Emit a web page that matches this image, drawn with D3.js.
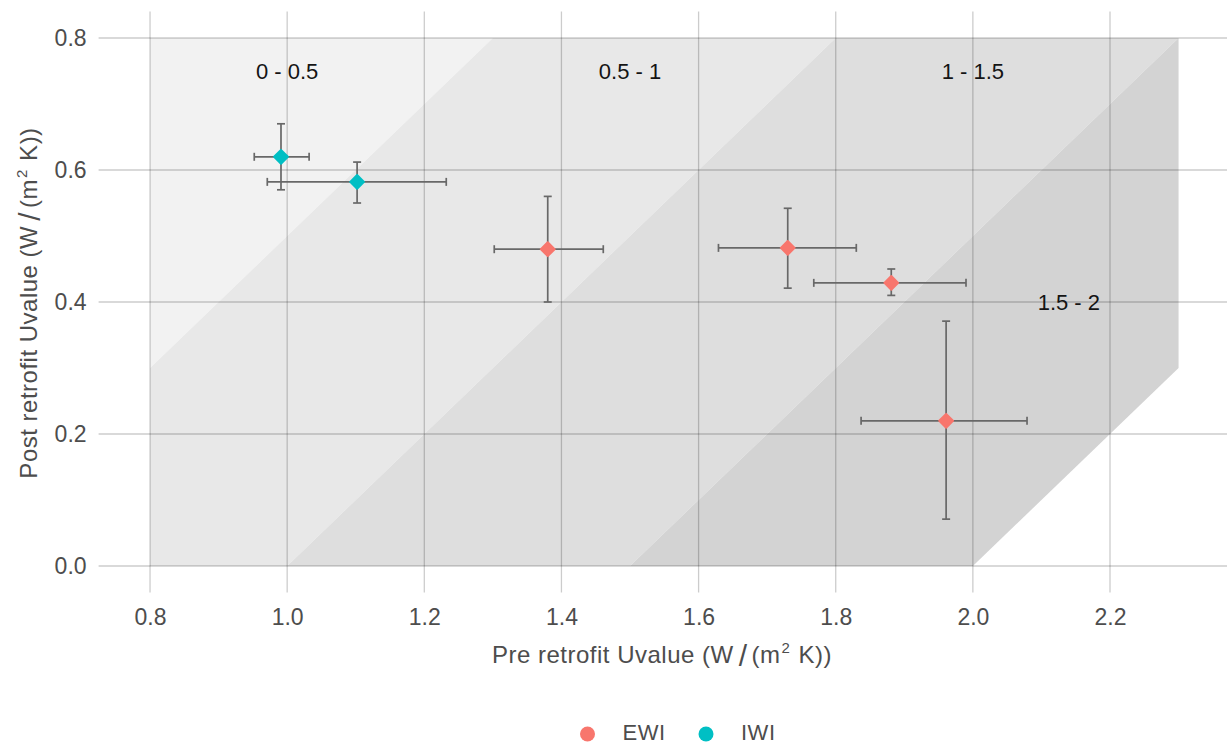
<!DOCTYPE html>
<html><head><meta charset="utf-8">
<script src="https://cdn.jsdelivr.net/npm/d3@7"></script>
<style>body{margin:0;background:#fff;} svg{display:block;font-family:"Liberation Sans",Arial,sans-serif;}</style>
</head><body>
<svg id="c" width="1227" height="745"></svg>
<script>
// ---- data ----
const groups = ["EWI","IWI"];
const groupColors = ["#F8766D","#00BFC4"];
const ptGroup = ["IWI","IWI","EWI","EWI","EWI","EWI"];
const preU    = [0.991,1.102,1.380,1.730,1.881,1.961];
const preLo   = [0.952,0.971,1.302,1.629,1.768,1.837];
const preHi   = [1.032,1.232,1.461,1.830,1.990,2.079];
const postU   = [0.620,0.582,0.480,0.482,0.429,0.220];
const postLo  = [0.570,0.550,0.400,0.421,0.410,0.071];
const postHi  = [0.670,0.612,0.560,0.542,0.450,0.371];
const bandLabels = ["0 - 0.5","0.5 - 1","1 - 1.5","1.5 - 2"];
const bandLabelX = [1.0,1.5,2.0,2.14];
const bandLabelY = [0.75,0.75,0.75,0.40];
const bandLo = [0,0.5,1.0,1.5];   // pre - post lower bound
const bandHi = [0.5,1.0,1.5,2.0];
const bandFill = ["#f2f2f2","#e8e8e8","#dedede","#d3d3d3"];
const xTicks = [0.8,1.0,1.2,1.4,1.6,1.8,2.0,2.2];
const yTicks = [0.0,0.2,0.4,0.6,0.8];
const xRegion = [0.8,2.3], yRegion = [0,0.8];

const FONT = "Liberation Sans, Arial, sans-serif";
const svg = d3.select("#c");
const x = d3.scaleLinear().domain([0.725,2.375]).range([98.6,1230.0]);
const y = d3.scaleLinear().domain([-0.04,0.84]).range([592.4,11.6]);
const color = d3.scaleOrdinal().domain(groups).range(groupColors);

function bandPoly(lo,hi){
  let poly = [[xRegion[0],yRegion[0]],[xRegion[1],yRegion[0]],[xRegion[1],yRegion[1]],[xRegion[0],yRegion[1]]];
  function clip(poly, f){
    const out=[];
    for(let i=0;i<poly.length;i++){
      const a=poly[i], b=poly[(i+1)%poly.length];
      const fa=f(a), fb=f(b);
      if(fa>=0) out.push(a);
      if((fa>=0)!==(fb>=0)){
        const t=fa/(fa-fb);
        out.push([a[0]+t*(b[0]-a[0]), a[1]+t*(b[1]-a[1])]);
      }
    }
    return out;
  }
  poly = clip(poly, p => (p[0]-p[1]) - lo);
  poly = clip(poly, p => hi - (p[0]-p[1]));
  return poly;
}
const g = svg.append("g");
bandLo.forEach((lo,i)=>{
  const p = bandPoly(lo, bandHi[i]);
  g.append("path").attr("d","M"+p.map(d=>[x(d[0]),y(d[1])].join(",")).join("L")+"Z")
   .attr("fill",bandFill[i]).attr("stroke","none");
});

// grid
const gridCol = "rgba(0,0,0,0.2)";
svg.append("g").selectAll("line").data(yTicks).join("line")
  .attr("x1",98.6).attr("x2",1227).attr("y1",d=>y(d)).attr("y2",d=>y(d))
  .attr("stroke",gridCol).attr("stroke-width",1.3);
svg.append("g").selectAll("line").data(xTicks).join("line")
  .attr("y1",11.6).attr("y2",592.4).attr("x1",d=>x(d)).attr("x2",d=>x(d))
  .attr("stroke",gridCol).attr("stroke-width",1.3);

// axes tick labels
const xAxis = svg.append("g").attr("transform","translate(0,592.4)")
  .call(d3.axisBottom(x).tickValues(xTicks).tickFormat(d3.format(".1f")).tickSize(0).tickPadding(16));
const yAxis = svg.append("g").attr("transform","translate(98.6,0)")
  .call(d3.axisLeft(y).tickValues(yTicks).tickFormat(d3.format(".1f")).tickSize(0).tickPadding(12));
[xAxis,yAxis].forEach(a=>{
  a.select(".domain").remove();
  a.attr("font-family",FONT);
  a.selectAll("text").attr("font-size",23).attr("fill","#4d4d4d").attr("font-family",FONT);
});

// band labels
svg.append("g").selectAll("text").data(bandLabels).join("text")
  .attr("x",(d,i)=>x(bandLabelX[i])).attr("y",(d,i)=>y(bandLabelY[i]))
  .attr("dy","0.35em").attr("text-anchor","middle").attr("font-size",22).attr("fill","#141414")
  .attr("font-family",FONT)
  .text(d=>d);

// error bars
const eb = svg.append("g").attr("stroke","#686868").attr("stroke-width",1.7).attr("fill","none");
const cap = 4;
preU.forEach((v,i)=>{
  eb.append("line").attr("x1",x(preLo[i])).attr("x2",x(preHi[i])).attr("y1",y(postU[i])).attr("y2",y(postU[i]));
  eb.append("line").attr("x1",x(preLo[i])).attr("x2",x(preLo[i])).attr("y1",y(postU[i])-cap).attr("y2",y(postU[i])+cap);
  eb.append("line").attr("x1",x(preHi[i])).attr("x2",x(preHi[i])).attr("y1",y(postU[i])-cap).attr("y2",y(postU[i])+cap);
  eb.append("line").attr("x1",x(v)).attr("x2",x(v)).attr("y1",y(postLo[i])).attr("y2",y(postHi[i]));
  eb.append("line").attr("x1",x(v)-cap).attr("x2",x(v)+cap).attr("y1",y(postLo[i])).attr("y2",y(postLo[i]));
  eb.append("line").attr("x1",x(v)-cap).attr("x2",x(v)+cap).attr("y1",y(postHi[i])).attr("y2",y(postHi[i]));
});

// points (diamond)
const sym = d3.symbol().type(d3.symbolSquare).size(95);
svg.append("g").selectAll("path").data(preU).join("path")
  .attr("d",sym)
  .attr("transform",(d,i)=>`translate(${x(d)},${y(postU[i])}) rotate(45)`)
  .attr("fill",(d,i)=>color(ptGroup[i]))
  .attr("stroke",(d,i)=>color(ptGroup[i])).attr("stroke-width",2).attr("stroke-linejoin","round");

// axis titles
function unitTitle(sel, label){
  sel.append("tspan").text(label+" (W");
  sel.append("tspan").attr("font-size",30).attr("dy",3).attr("dx",5).text("/");
  sel.append("tspan").attr("dy",-3).attr("dx",4).text("(m");
  sel.append("tspan").attr("font-size",15).attr("dy",-10).attr("dx",1).text("2");
  sel.append("tspan").attr("dy",10).attr("dx",1).text(" K))");
}
const xt = svg.append("text").attr("x",662).attr("y",663).attr("text-anchor","middle")
  .attr("font-size",24).attr("letter-spacing",0.5).attr("fill","#4d4d4d").attr("font-family",FONT);
unitTitle(xt,"Pre retrofit Uvalue");
const yt = svg.append("text").attr("transform","translate(37,303) rotate(-90)").attr("text-anchor","middle")
  .attr("font-size",24).attr("letter-spacing",0.5).attr("fill","#4d4d4d").attr("font-family",FONT);
unitTitle(yt,"Post retrofit Uvalue");

// legend
const legX = [587.5,706];
const lg = svg.append("g");
groups.forEach((k,i)=>{
  lg.append("circle").attr("cx",legX[i]).attr("cy",734).attr("r",7.5).attr("fill",groupColors[i]);
  lg.append("text").attr("x",legX[i]+35).attr("y",740).attr("font-size",22).attr("letter-spacing",0.5)
    .attr("fill","#4d4d4d").attr("font-family",FONT).text(k);
});
</script>
</body></html>
